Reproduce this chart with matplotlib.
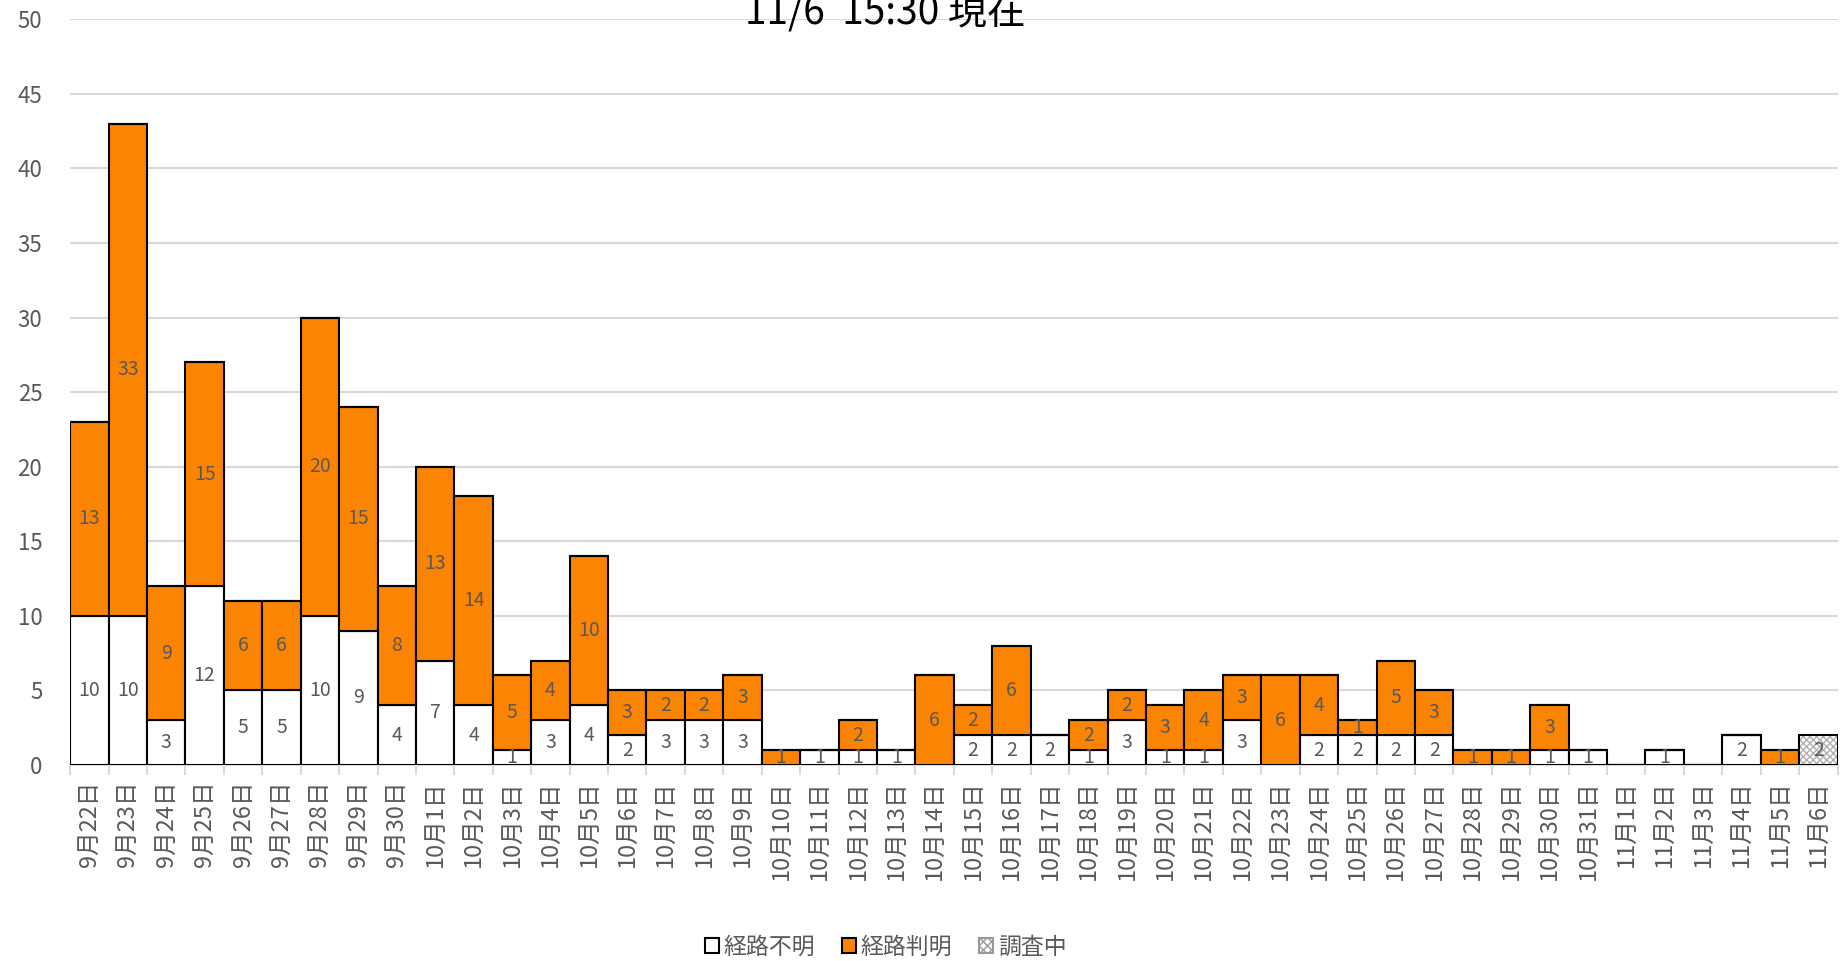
import numpy as np
import matplotlib
matplotlib.use("Agg")
import matplotlib.pyplot as plt
from matplotlib.patches import Patch

plt.rcParams['font.family'] = ['Noto Sans CJK JP', 'DejaVu Sans']

# データ
dates = ["9月22日", "9月23日", "9月24日", "9月25日", "9月26日", "9月27日", "9月28日", "9月29日", "9月30日",
         "10月1日", "10月2日", "10月3日", "10月4日", "10月5日", "10月6日", "10月7日", "10月8日", "10月9日",
         "10月10日", "10月11日", "10月12日", "10月13日", "10月14日", "10月15日", "10月16日", "10月17日",
         "10月18日", "10月19日", "10月20日", "10月21日", "10月22日", "10月23日", "10月24日", "10月25日",
         "10月26日", "10月27日", "10月28日", "10月29日", "10月30日", "10月31日",
         "11月1日", "11月2日", "11月3日", "11月4日", "11月5日", "11月6日"]
unknown = [10, 10, 3, 12, 5, 5, 10, 9, 4, 7, 4, 1, 3, 4, 2, 3, 3, 3,
           0, 1, 1, 1, 0, 2, 2, 2, 1, 3, 1, 1, 3, 0, 2, 2, 2, 2, 0, 0, 1, 1,
           0, 1, 0, 2, 0, 0]
known = [13, 33, 9, 15, 6, 6, 20, 15, 8, 13, 14, 5, 4, 10, 3, 2, 2, 3,
         1, 0, 2, 0, 6, 2, 6, 0, 2, 2, 3, 4, 3, 6, 4, 1, 5, 3, 1, 1, 3, 0,
         0, 0, 0, 0, 1, 0]
investigating = [0] * 45 + [2]
title = "11/6  15:30 現在"

unknown = np.array(unknown)
known = np.array(known)
investigating = np.array(investigating)
x = np.arange(len(dates))

fig = plt.figure(figsize=(18.45, 9.61), dpi=100)
ax = fig.add_axes([0.038, 0.204, 0.958, 0.776])

lw = 1.5
orange = '#fc8403'
ax.bar(x, unknown, width=1, color='white', edgecolor='black', linewidth=lw, zorder=3)
ax.bar(x, known, width=1, bottom=unknown, color=orange, edgecolor='black', linewidth=lw, zorder=3)
b2 = unknown + known
# 調査中（網掛け）
ax.bar(x, investigating, width=1, bottom=b2, color='white', edgecolor='#b0b0b0',
       hatch='xxxxx', linewidth=0, zorder=3)
ax.bar(x, investigating, width=1, bottom=b2, color='none', edgecolor='black', linewidth=lw, zorder=4)

# ラベル
lab = '#595959'
for series, bottom in [(unknown, np.zeros_like(unknown)), (known, unknown), (investigating, b2)]:
    for i, v in enumerate(series):
        if v > 0:
            ax.text(x[i], bottom[i] + v / 2, str(v), ha='center', va='center',
                    fontsize=14, color=lab, zorder=5)

ax.set_xlim(-0.5, len(dates) - 0.5)
ax.set_ylim(0, 50)
ax.set_yticks(range(0, 51, 5))
ax.yaxis.grid(True, color='#d9d9d9', linewidth=1.5, zorder=0)
ax.set_axisbelow(True)
for s in ['top', 'right', 'left']:
    ax.spines[s].set_visible(False)
ax.spines['bottom'].set_color('#d9d9d9')
ax.spines['bottom'].set_linewidth(1.5)

ax.set_xticks(x)
ax.set_xticklabels(dates, rotation=90, va='top', ha='center', fontsize=17, color=lab)
ax.tick_params(axis='x', length=0, pad=11)
ax.set_xticks(np.arange(-0.5, len(dates), 1), minor=True)
ax.tick_params(axis='x', which='minor', length=7, color='#d9d9d9', width=1.5)
ax.tick_params(axis='y', length=0, labelsize=16, labelcolor=lab, pad=20)

fig.text(0.48, 1 - 24 / 961, title, ha='center', va='baseline', fontsize=28, color='black')

handles = [Patch(facecolor='white', edgecolor='black', linewidth=1.5),
           Patch(facecolor=orange, edgecolor='black', linewidth=1.5),
           Patch(facecolor='white', edgecolor='#999999', hatch='xxxx', linewidth=1.5)]
leg = fig.legend(handles, ['経路不明', '経路判明', '調査中'], loc='center', bbox_to_anchor=(0.48, 1 - 947 / 961),
                 ncol=3, frameon=False, fontsize=16.5, handlelength=0.6, handleheight=0.6,
                 handletextpad=0.2, columnspacing=1.2)
for t in leg.get_texts():
    t.set_color(lab)

fig.savefig('out.png', dpi=100)
